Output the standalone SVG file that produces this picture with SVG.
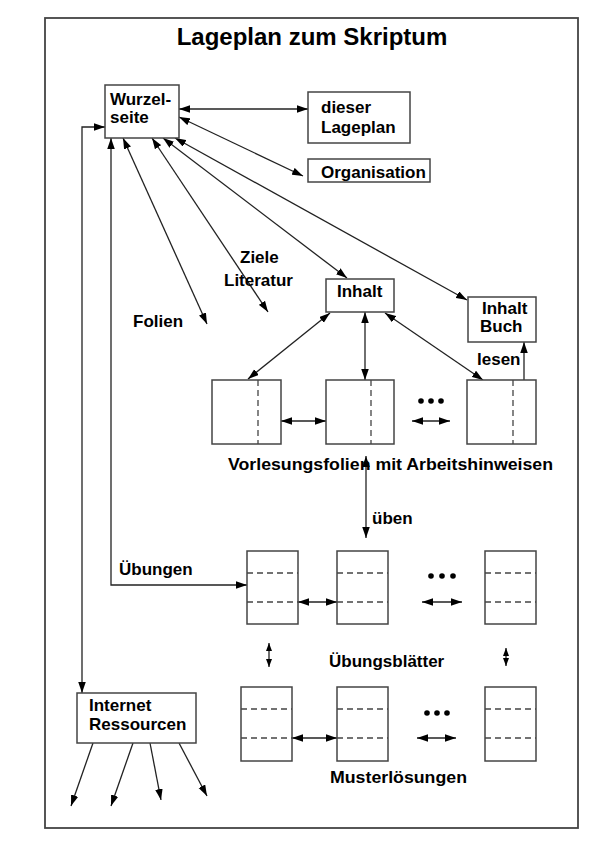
<svg xmlns="http://www.w3.org/2000/svg" width="595" height="842" viewBox="0 0 595 842">
<style>
text{font-family:"Liberation Sans",Arial,sans-serif;font-weight:bold;font-size:17px;fill:#000}
.title{font-size:24px}
.box{fill:#fff;stroke:#444;stroke-width:1.5}
.dash{stroke:#444;stroke-width:1.3;stroke-dasharray:6,4;fill:none}
.c{fill:none;stroke:#222;stroke-width:1.3}
.dd{marker-start:url(#ah);marker-end:url(#ah)}
.de{marker-end:url(#ah)}
.ds{marker-start:url(#sh);marker-end:url(#sh)}
.dot{fill:#000}
</style>
<defs>
<marker id="ah" markerUnits="userSpaceOnUse" markerWidth="12" markerHeight="8" refX="11" refY="3.75" orient="auto-start-reverse"><path d="M0,0 L11,3.75 L0,7.5 z" fill="#000"/></marker>
<marker id="sh" markerUnits="userSpaceOnUse" markerWidth="9" markerHeight="7" refX="8" refY="3" orient="auto-start-reverse"><path d="M0,0 L8,3 L0,6 z" fill="#000"/></marker>
</defs>
<rect x="45" y="18" width="533" height="810" fill="#fff" stroke="#444" stroke-width="1.8"/>
<text class="title" x="312" y="45" text-anchor="middle">Lageplan zum Skriptum</text>

<g id="connectors">
<line class="c dd" x1="179" y1="109" x2="308" y2="109"/>
<line class="c dd" x1="179" y1="117" x2="303" y2="176"/>
<line class="c dd" x1="123" y1="138" x2="207" y2="324"/>
<line class="c dd" x1="152" y1="138" x2="268" y2="312"/>
<line class="c dd" x1="163" y1="138" x2="347" y2="278"/>
<line class="c dd" x1="175" y1="138" x2="467" y2="300"/>
<path class="c dd" d="M105,127 H82 V693"/>
<path class="c dd" d="M111,138 V585 H247"/>
<line class="c dd" x1="330" y1="313" x2="248" y2="379"/>
<line class="c dd" x1="365" y1="312" x2="365" y2="380"/>
<line class="c dd" x1="385" y1="313" x2="483" y2="380"/>
<line class="c de" x1="524" y1="380" x2="524" y2="342"/>
<line class="c dd" x1="281" y1="421" x2="326" y2="421"/>
<line class="c dd" x1="412" y1="421" x2="450" y2="421"/>
<line class="c dd" x1="366" y1="456" x2="366" y2="538"/>
<line class="c dd" x1="298" y1="602" x2="337" y2="602"/>
<line class="c dd" x1="422" y1="602" x2="462" y2="602"/>
<line class="c ds" x1="269" y1="643" x2="269" y2="667"/>
<line class="c ds" x1="506" y1="648" x2="506" y2="666"/>
<line class="c dd" x1="292" y1="738" x2="337" y2="738"/>
<line class="c dd" x1="417" y1="738" x2="456" y2="738"/>
<line class="c de" x1="93" y1="743" x2="71" y2="806"/>
<line class="c de" x1="133" y1="743" x2="111" y2="806"/>
<line class="c de" x1="150" y1="743" x2="161" y2="800"/>
<line class="c de" x1="179" y1="743" x2="207" y2="796"/>
</g>

<g id="wurzelseite"><rect class="box" x="105" y="85" width="74" height="53"/><text x="110" y="105">Wurzel-</text><text x="110" y="123">seite</text></g>
<g id="lageplan"><rect class="box" x="308" y="92" width="102" height="51"/><text x="321" y="113">dieser</text><text x="321" y="133">Lageplan</text></g>
<g id="organisation"><rect class="box" x="308" y="159" width="122" height="23"/><text x="321" y="178">Organisation</text></g>
<g id="inhalt"><rect class="box" x="326" y="279" width="68" height="33"/><text x="337" y="297">Inhalt</text></g>
<g id="inhaltbuch"><rect class="box" x="468" y="297" width="68" height="45"/><text x="482" y="314">Inhalt</text><text x="480" y="332">Buch</text></g>
<g id="folien-label"><text x="133" y="327">Folien</text></g>
<g id="ziele-label"><text x="240" y="263">Ziele</text><text x="224" y="286">Literatur</text></g>
<g id="lesen-label"><text x="477" y="365">lesen</text></g>

<g id="folie1"><rect class="box" x="212" y="380" width="69" height="64"/><line class="dash" x1="258" y1="380" x2="258" y2="444"/></g>
<g id="folie2"><rect class="box" x="326" y="380" width="68" height="64"/><line class="dash" x1="371" y1="380" x2="371" y2="444"/></g>
<g id="folie3"><rect class="box" x="467" y="380" width="69" height="64"/><line class="dash" x1="513" y1="380" x2="513" y2="444"/></g>
<g id="dots1"><circle class="dot" cx="421" cy="401" r="2.8"/><circle class="dot" cx="431" cy="401" r="2.8"/><circle class="dot" cx="441" cy="401" r="2.8"/></g>
<g id="vorlesung-label"><text x="228" y="470" textLength="325" lengthAdjust="spacingAndGlyphs">Vorlesungsfolien mit Arbeitshinweisen</text></g>
<g id="ueben-label"><text x="372" y="524">üben</text></g>
<g id="uebungen-label"><text x="119" y="575">Übungen</text></g>

<g id="blatt1"><rect class="box" x="247" y="551" width="51" height="73"/><line class="dash" x1="247" y1="573" x2="298" y2="573"/><line class="dash" x1="247" y1="602" x2="298" y2="602"/></g>
<g id="blatt2"><rect class="box" x="337" y="551" width="51" height="73"/><line class="dash" x1="337" y1="573" x2="388" y2="573"/><line class="dash" x1="337" y1="602" x2="388" y2="602"/></g>
<g id="blatt3"><rect class="box" x="485" y="551" width="51" height="73"/><line class="dash" x1="485" y1="573" x2="536" y2="573"/><line class="dash" x1="485" y1="602" x2="536" y2="602"/></g>
<g id="dots2"><circle class="dot" cx="431" cy="576" r="2.8"/><circle class="dot" cx="442" cy="576" r="2.8"/><circle class="dot" cx="453" cy="576" r="2.8"/></g>
<g id="uebungsblaetter-label"><text x="329" y="667">Übungsblätter</text></g>

<g id="muster1"><rect class="box" x="241" y="687" width="51" height="74"/><line class="dash" x1="241" y1="709" x2="292" y2="709"/><line class="dash" x1="241" y1="738" x2="292" y2="738"/></g>
<g id="muster2"><rect class="box" x="337" y="687" width="51" height="74"/><line class="dash" x1="337" y1="709" x2="388" y2="709"/><line class="dash" x1="337" y1="738" x2="388" y2="738"/></g>
<g id="muster3"><rect class="box" x="485" y="687" width="51" height="74"/><line class="dash" x1="485" y1="709" x2="536" y2="709"/><line class="dash" x1="485" y1="738" x2="536" y2="738"/></g>
<g id="dots3"><circle class="dot" cx="427" cy="713" r="2.8"/><circle class="dot" cx="437" cy="713" r="2.8"/><circle class="dot" cx="447" cy="713" r="2.8"/></g>
<g id="muster-label"><text x="330" y="783" textLength="137" lengthAdjust="spacingAndGlyphs">Musterlösungen</text></g>

<g id="internet"><rect class="box" x="77" y="693" width="119" height="50"/><text x="89" y="711">Internet</text><text x="89" y="730">Ressourcen</text></g>
</svg>
